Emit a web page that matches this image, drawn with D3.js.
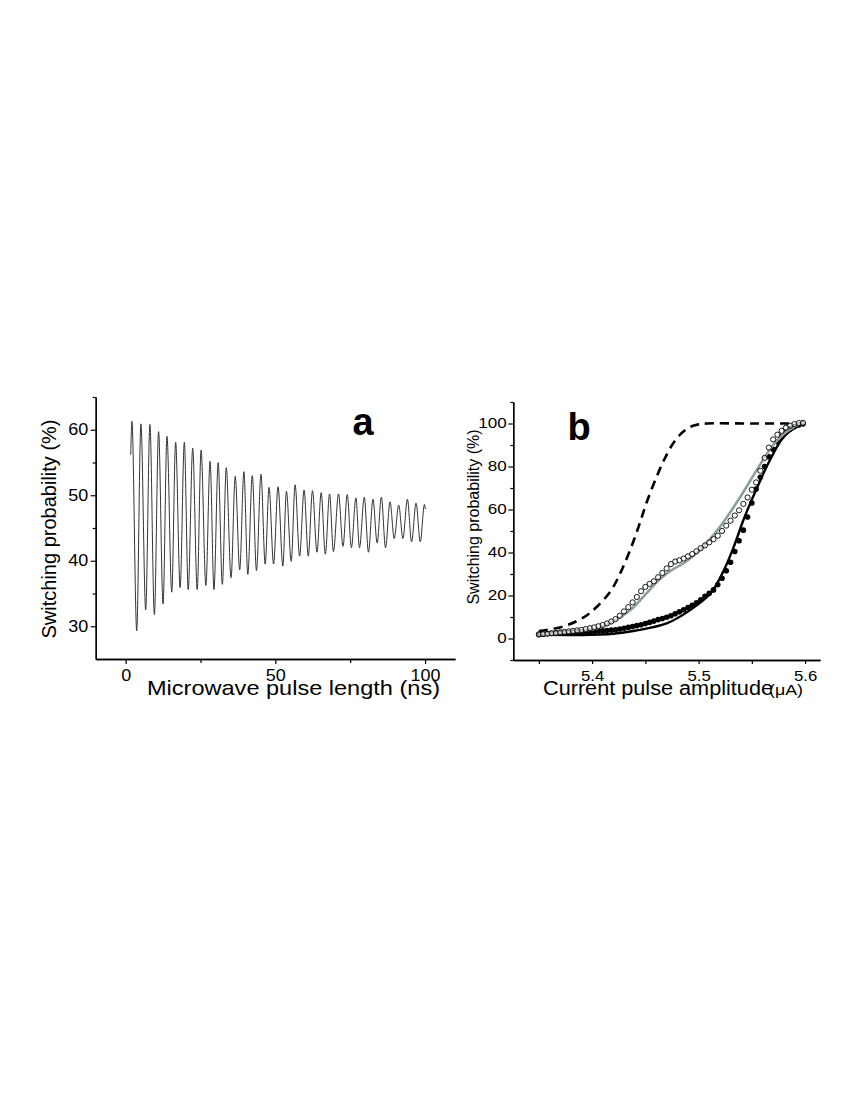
<!DOCTYPE html>
<html>
<head>
<meta charset="utf-8">
<script src="https://cdn.jsdelivr.net/npm/d3@7"></script>
<style>
  body { margin: 0; background: #fff; }
  text { font-family: "Liberation Sans", Arial, sans-serif; }
</style>
</head>
<body>
<div id="chart"></div>
<script>
// Panel a: Rabi-like oscillation, turning points
const pulseNs = [1.7, 2.1, 3.7, 5.1, 6.7, 8.1, 9.6, 11.0, 12.5, 13.8, 15.4, 16.7, 18.2, 19.6, 20.9,
  22.4, 23.9, 25.2, 26.8, 28.2, 29.5, 30.9, 32.3, 33.6, 35.2, 36.6, 38.1, 39.5, 40.8, 42.3, 43.7,
  45.2, 46.6, 47.9, 49.4, 50.9, 52.5, 53.7, 55.3, 56.6, 58.1, 59.6, 61.0, 62.4, 63.9, 65.3, 66.7,
  68.1, 69.4, 71.1, 72.6, 74.0, 75.4, 76.9, 78.1, 79.7, 81.1, 82.6, 84.0, 85.4, 86.8, 88.3, 89.7,
  91.2, 92.6, 94.1, 95.5, 97.0, 98.4, 99.8, 100.1];
const switchA = [56.2, 61.3, 29.3, 60.9, 32.5, 60.8, 31.8, 59.7, 33.4, 59.0, 35.2, 58.1, 35.9, 58.1, 35.6,
  57.2, 35.6, 56.9, 36.2, 55.2, 35.6, 55.0, 36.4, 54.2, 37.4, 52.9, 38.6, 53.6, 37.9, 53.0, 38.5,
  53.2, 39.5, 51.2, 39.5, 51.3, 39.2, 50.6, 39.9, 51.6, 40.7, 50.8, 40.7, 50.7, 41.3, 50.4, 41.0,
  50.2, 41.4, 50.2, 42.2, 50.1, 42.0, 49.6, 42.0, 49.7, 41.3, 49.4, 42.7, 49.7, 42.0, 49.0, 43.4,
  48.5, 43.4, 49.4, 42.9, 48.8, 42.9, 48.6, 47.9];
const ticksA_x = [0, 50, 100];
const ticksA_y = [30, 40, 50, 60];

// Panel b: switching curves vs current pulse amplitude
const currentPts = [5.350, 5.354, 5.358, 5.362, 5.366, 5.370, 5.374, 5.378, 5.382, 5.386, 5.390,
  5.394, 5.398, 5.402, 5.406, 5.410, 5.414, 5.418, 5.422, 5.426, 5.430, 5.434, 5.438, 5.442, 5.446,
  5.450, 5.454, 5.458, 5.462, 5.466, 5.470, 5.474, 5.478, 5.482, 5.486, 5.490, 5.494, 5.498, 5.502,
  5.506, 5.510, 5.514, 5.518, 5.522, 5.526, 5.530, 5.534, 5.538, 5.542, 5.546, 5.550, 5.554, 5.558,
  5.562, 5.566, 5.570, 5.574, 5.578, 5.582, 5.586, 5.590, 5.594, 5.598];
const probOpen = [1.9, 2.1, 2.2, 2.5, 2.6, 2.9, 3.1, 3.3, 3.5, 3.8, 4.0,
  4.4, 4.8, 5.2, 5.7, 6.3, 7.0, 7.9, 9.0, 10.6, 12.6, 14.6, 16.8, 19.3, 22.0,
  24.0, 25.4, 26.6, 28.5, 30.5, 32.6, 34.6, 35.8, 36.4, 37.2, 38.2, 39.3, 40.6, 42.0,
  43.3, 44.7, 46.2, 47.8, 50.0, 52.5, 54.8, 57.2, 59.6, 62.6, 65.6, 69.2, 72.6, 78.0,
  84.0, 88.8, 92.6, 94.8, 96.6, 98.0, 99.0, 99.7, 100.2, 100.3];
const probFilled = [1.9, 2.0, 2.2, 2.3, 2.4, 2.6, 2.7, 2.8, 2.9, 3.0, 3.1,
  3.2, 3.3, 3.4, 3.5, 3.6, 3.7, 3.9, 4.1, 4.4, 4.8, 5.2, 5.6, 6.0, 6.4,
  7.0, 7.5, 8.1, 8.8, 9.3, 9.9, 10.6, 11.5, 12.4, 13.4, 14.4, 15.4, 16.6, 18.0,
  19.6, 21.0, 22.6, 25.0, 28.0, 31.5, 35.5, 40.5, 45.5, 50.4, 56.5, 63.0, 69.5, 75.0,
  80.0, 84.5, 88.0, 91.5, 94.0, 96.0, 97.5, 98.6, 99.3, 99.8];

const fitGreyX = [5.350, 5.375, 5.404, 5.420, 5.436, 5.451, 5.464, 5.474, 5.486, 5.501, 5.520, 5.540, 5.556, 5.570, 5.582, 5.595, 5.600];
const fitGreyY = [2.0, 2.8, 4.7, 8.0, 13.2, 21.0, 27.8, 31.6, 35.0, 41.0, 51.9, 66.5, 79.5, 90.0, 96.0, 99.8, 100.3];
const fitBlackX = [5.350, 5.390, 5.420, 5.440, 5.470, 5.492, 5.511, 5.523, 5.533, 5.542, 5.553, 5.567, 5.580, 5.595, 5.600];
const fitBlackY = [1.8, 1.6, 2.2, 3.6, 7.0, 13.2, 20.9, 31.0, 42.6, 55.0, 68.0, 83.0, 93.8, 99.2, 100.0];
const dashX = [5.350, 5.373, 5.392, 5.405, 5.418, 5.427, 5.436, 5.444, 5.451, 5.460, 5.468, 5.476, 5.484, 5.492, 5.500, 5.508, 5.550, 5.590];
const dashY = [3.5, 5.6, 9.8, 15.0, 22.5, 31.0, 41.5, 52.5, 63.0, 74.5, 83.5, 90.7, 95.5, 98.4, 99.6, 100.0, 100.0, 100.0];

const ticksB_x = [5.4, 5.5, 5.6];
const minorB_x = [5.35, 5.45, 5.55];
const ticksB_y = [0, 20, 40, 60, 80, 100];
const minorB_y = [-10, 10, 30, 50, 70, 90, 110];

const svg = d3.select("#chart").append("svg")
  .attr("width", 850)
  .attr("height", 1100);

svg.append("rect").attr("width", 850).attr("height", 1100).attr("fill", "#fff");

// helper: style an axis group, digits are drawn a bit wide like the original
function styleAxis(g, fontSize, digitW) {
  g.select(".domain").attr("stroke", "#000").attr("stroke-width", 1.3);
  g.selectAll(".tick line").attr("stroke", "#000").attr("stroke-width", 1.2);
  g.selectAll(".tick text").attr("fill", "#000").attr("font-size", fontSize)
    .attr("font-family", "'Liberation Sans', Arial, sans-serif")
    .each(function () {
      const t = d3.select(this).text();
      if (t && digitW) {
        const w = t.replace(".", "").length * digitW + (t.includes(".") ? digitW * 0.45 : 0);
        d3.select(this).attr("textLength", w).attr("lengthAdjust", "spacingAndGlyphs");
      }
    });
}

// ---------- panel a ----------
const xA = d3.scaleLinear().domain([-10, 110]).range([95.7, 455]);
const yA = d3.scaleLinear().domain([25, 65]).range([659, 397]);

const axA_x = svg.append("g").attr("transform", "translate(0,659)")
  .call(d3.axisBottom(xA).tickValues(ticksA_x).tickSize(5).tickPadding(6).tickSizeOuter(0));
styleAxis(axA_x, 16, 10);
const axA_xm = svg.append("g").attr("transform", "translate(0,659)")
  .call(d3.axisBottom(xA).tickValues([25, 75]).tickSize(4).tickFormat("").tickSizeOuter(0));
styleAxis(axA_xm, 16);

const axA_y = svg.append("g").attr("transform", "translate(95.7,0)")
  .call(d3.axisLeft(yA).tickValues(ticksA_y).tickSize(5).tickPadding(2.5).tickSizeOuter(0));
styleAxis(axA_y, 16, 10);
const axA_ym = svg.append("g").attr("transform", "translate(95.7,0)")
  .call(d3.axisLeft(yA).tickValues([35, 45, 55, 65]).tickSize(3).tickFormat("").tickSizeOuter(0));
styleAxis(axA_ym, 16);

const lineA = d3.line()
  .x((d, i) => xA(pulseNs[i]))
  .y(d => yA(d))
  .curve(d3.curveMonotoneX);

svg.append("path")
  .datum(switchA)
  .attr("d", lineA)
  .attr("fill", "none")
  .attr("stroke", "#333")
  .attr("stroke-width", 1);

svg.append("text")
  .attr("x", 147).attr("y", 695)
  .attr("font-size", 21)
  .attr("textLength", 293).attr("lengthAdjust", "spacingAndGlyphs")
  .text("Microwave pulse length (ns)");

svg.append("text")
  .attr("transform", "translate(56,529) rotate(-90)")
  .attr("text-anchor", "middle")
  .attr("font-size", 20)
  .text("Switching probability (%)");

svg.append("text")
  .attr("x", 363).attr("y", 435)
  .attr("text-anchor", "middle")
  .attr("font-size", 38).attr("font-weight", "bold")
  .text("a");

// ---------- panel b ----------
const xB = d3.scaleLinear().domain([5.326, 5.614]).range([513.3, 820]);
const yB = d3.scaleLinear().domain([-10, 110]).range([660, 402]);

const axB_x = svg.append("g").attr("transform", "translate(0,660)")
  .call(d3.axisBottom(xB).tickValues(ticksB_x).tickFormat(d3.format(".1f"))
    .tickSize(4).tickPadding(7.5).tickSizeOuter(0));
styleAxis(axB_x, 14, 9.5);
const axB_xm = svg.append("g").attr("transform", "translate(0,660)")
  .call(d3.axisBottom(xB).tickValues(minorB_x).tickSize(4).tickFormat("").tickSizeOuter(0));
styleAxis(axB_xm, 14);

const axB_y = svg.append("g").attr("transform", "translate(513.3,0)")
  .call(d3.axisLeft(yB).tickValues(ticksB_y).tickSize(5).tickPadding(1.5).tickSizeOuter(0));
styleAxis(axB_y, 14, 9.5);
const axB_ym = svg.append("g").attr("transform", "translate(513.3,0)")
  .call(d3.axisLeft(yB).tickValues(minorB_y).tickSize(3).tickFormat("").tickSizeOuter(0));
styleAxis(axB_ym, 14);

const pathB = (xs) => d3.line()
  .x((d, i) => xB(xs[i]))
  .y(d => yB(d))
  .curve(d3.curveCatmullRom.alpha(0.5));

// dashed curve
svg.append("path")
  .datum(dashY)
  .attr("d", pathB(dashX))
  .attr("fill", "none")
  .attr("stroke", "#000")
  .attr("stroke-width", 2.6)
  .attr("stroke-dasharray", "9,6");

// filled dots
svg.append("g").selectAll("circle")
  .data(probFilled)
  .join("circle")
  .attr("cx", (d, i) => xB(currentPts[i]))
  .attr("cy", d => yB(d))
  .attr("r", 2.8)
  .attr("fill", "#000");

// black fit line
svg.append("path")
  .datum(fitBlackY)
  .attr("d", pathB(fitBlackX))
  .attr("fill", "none")
  .attr("stroke", "#000")
  .attr("stroke-width", 2.4);

// grey fit line
svg.append("path")
  .datum(fitGreyY)
  .attr("d", pathB(fitGreyX))
  .attr("fill", "none")
  .attr("stroke", "#8e9e9e")
  .attr("stroke-width", 2.6);

// open circles
svg.append("g").selectAll("circle")
  .data(probOpen)
  .join("circle")
  .attr("cx", (d, i) => xB(currentPts[i]))
  .attr("cy", d => yB(d))
  .attr("r", 2.6)
  .attr("fill", "#fff")
  .attr("fill-opacity", 0.5)
  .attr("stroke", "#000")
  .attr("stroke-width", 0.9);

svg.append("text")
  .attr("x", 543).attr("y", 695)
  .attr("font-size", 20)
  .attr("textLength", 230).attr("lengthAdjust", "spacingAndGlyphs")
  .text("Current pulse amplitude");
svg.append("text")
  .attr("x", 769).attr("y", 695)
  .attr("font-size", 15)
  .attr("textLength", 34).attr("lengthAdjust", "spacingAndGlyphs")
  .text("(\u03BCA)");

svg.append("text")
  .attr("transform", "translate(479,517) rotate(-90)")
  .attr("text-anchor", "middle")
  .attr("font-size", 16)
  .text("Switching probability (%)");

svg.append("text")
  .attr("x", 579).attr("y", 440)
  .attr("text-anchor", "middle")
  .attr("font-size", 38).attr("font-weight", "bold")
  .text("b");
</script>
</body>
</html>
